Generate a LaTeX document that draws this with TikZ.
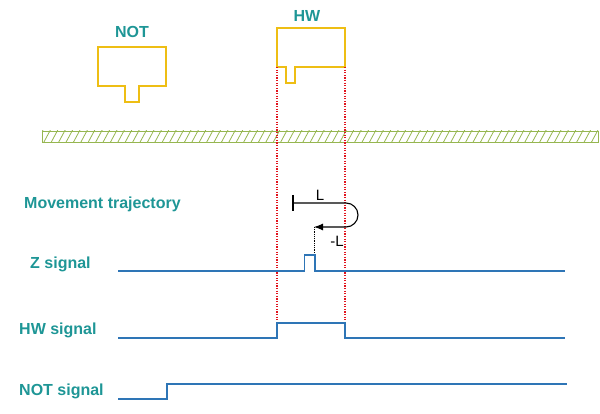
\documentclass[tikz,border=0pt]{standalone}
\usepackage{fontspec}
\setmainfont{Liberation Sans}
\usepackage{tikz}
\usetikzlibrary{shapes.geometric, arrows.meta}

\definecolor{labelteal}{RGB}{30,150,150}
\definecolor{sigblue}{RGB}{46,117,182}
\definecolor{blockyellow}{RGB}{238,190,20}
\definecolor{hatchgreen}{RGB}{150,182,80}
\definecolor{edgered}{RGB}{225,20,30}

\tikzset{
  lbl/.style={font=\fontsize{16}{18}\selectfont\bfseries, text=labelteal, inner sep=0pt},
  sig/.style={draw=sigblue, line width=1.3pt},
  block/.style={draw=blockyellow, line width=1.7pt},
  hwedge/.style={draw=edgered, dash pattern=on 1.3pt off 1.3pt, line width=1.1pt},
  dist/.style={font=\fontsize{15}{17}\selectfont, inner sep=0pt}
}

\begin{document}
\begin{tikzpicture}[x=1pt, y=-1pt]
        \useasboundingbox (0,0) rectangle (600,414);

        % Switch blocks
        \draw[block] (98,47) -- (166,47) -- (166,86) -- (139,86) -- (139,102)
            -- (125,102) -- (125,86) -- (98,86) -- cycle;
        \node[lbl] (not) at (132,32) {NOT};
        \draw[block] (277,28) -- (345,28) -- (345,67) -- (295,67) -- (295,83)
            -- (286,83) -- (286,67) -- (277,67) -- cycle;
        \node[lbl] (hw) at (307,16) {HW};

        % Hatched rail
        \begin{scope}
            \clip (42,131) rectangle (598,142);
            \foreach \x in {36,43.4,...,604}
                \draw[hatchgreen, line width=0.8pt] (\x,143) -- (\x+7,130);
        \end{scope}
        \draw[hatchgreen, line width=0.8pt] (42,131) rectangle (598,142);

        % HW edges
        \draw[hwedge] (277,67) -- (277,338);
        \draw[hwedge] (345,67) -- (345,338);

        % Movement trajectory
        \node[lbl, anchor=west] (traj) at (24,204) {Movement trajectory};
        \coordinate (start) at (293,203);
        \coordinate (turn) at (346,203);
        \coordinate (stop) at (314,227);
        \draw[line width=1.1pt] (293,195) -- (293,211);
        \draw[line width=1.1pt, -{Latex[length=9pt,width=7pt]}] (start) -- (turn)
            arc[start angle=-90, end angle=90, radius=12] -- (stop);
        \node[dist] (l) at (320,195) {L};
        \node[dist] (ml) at (337,241) {-L};
        \draw[densely dotted, line width=0.8pt] (stop) -- (314,270);

        % Signals
        \node[lbl, anchor=west] (zsig) at (30,264) {Z signal};
        \draw[sig] (118,271) -- (304.5,271) -- (304.5,255) -- (315,255)
            -- (315,271) -- (565,271);

        \node[lbl, anchor=west] (hwsig) at (19,330) {HW signal};
        \draw[sig] (118,338) -- (277,338) -- (277,323) -- (345,323)
            -- (345,338) -- (565,338);

        \node[lbl, anchor=west] (notsig) at (19,391) {NOT signal};
        \draw[sig] (118,399) -- (167,399) -- (167,384) -- (567,384);
    \end{tikzpicture}
\end{document}
